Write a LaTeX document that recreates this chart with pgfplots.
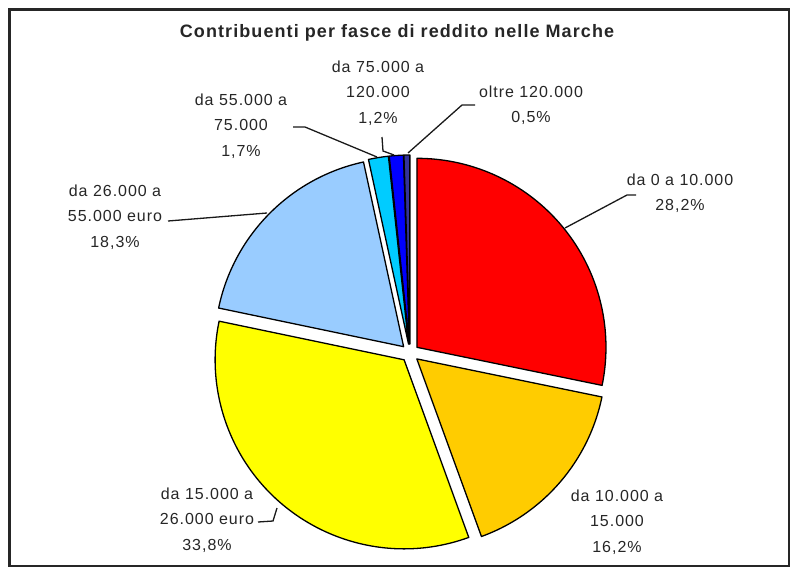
\documentclass[border=0pt]{standalone}
\usepackage{pgfplots}
\pgfplotsset{compat=1.18}
\usepackage{pgfplotstable}
\usepackage{fontspec}
\setmainfont{Liberation Sans}[LetterSpace=6]

\definecolor{cA}{HTML}{FF0000}
\definecolor{cB}{HTML}{FFCC00}
\definecolor{cC}{HTML}{FFFF00}
\definecolor{cD}{HTML}{99CCFF}
\definecolor{cE}{HTML}{00CCFF}
\definecolor{cF}{HTML}{0000FF}
\definecolor{cG}{HTML}{333399}

% quote percentuali, in senso orario da ore 12
\pgfplotstableread{
pct
28.2
16.2
33.8
18.3
1.7
1.2
0.5
}\fasce

\begin{document}
\begin{tikzpicture}[lab/.style={font=\fontsize{16}{25.5}\selectfont, align=center, text=black!85, inner sep=0pt}]
\pgfmathsetmacro\tot{0}
\foreach \i in {0,...,6}{%
  \pgfplotstablegetelem{\i}{pct}\of\fasce
  \pgfmathparse{\tot+\pgfplotsretval}\xdef\tot{\pgfmathresult}}
\begin{axis}[
  scale only axis, width=800pt, height=574pt,
  xmin=0, xmax=800, ymin=0, ymax=574, y dir=reverse,
  enlargelimits=false, hide axis, clip=false,
]
\path (axis cs:0,0) rectangle (axis cs:800,574);
\draw[line width=2.5pt, black!85] (axis cs:9.5,9.5) rectangle (axis cs:789,566);

\pgfplotsextra{%
  \xdef\cum{0}%
  \foreach \i/\col in {0/cA,1/cB,2/cC,3/cD,4/cE,5/cF,6/cG}{%
    \pgfplotstablegetelem{\i}{pct}\of\fasce
    \pgfmathsetmacro\s{90-\cum/\tot*360}%
    \pgfmathsetmacro\e{90-(\cum+\pgfplotsretval)/\tot*360}%
    \pgfmathsetmacro\b{(\s+\e)/2}%
    \pgfmathsetmacro\vx{410+9*cos(\b)}%
    \pgfmathsetmacro\vy{353-9*sin(\b)}%
    \filldraw[fill=\col, draw=black, line width=1.3pt, line join=round]
      (axis cs:\vx,\vy) -- ++(\s:189pt) arc[start angle=\s, end angle=\e, radius=189pt] -- cycle;
    \pgfmathparse{\cum+\pgfplotsretval}\xdef\cum{\pgfmathresult}%
  }%
}

% linee guida
\begin{scope}[line width=1.3pt, black!90]
\draw (axis cs:565,228) -- (axis cs:627,195) -- (axis cs:636,195);
\draw (axis cs:258,522) -- (axis cs:273,521) -- (axis cs:277,508);
\draw (axis cs:168,221) -- (axis cs:267,213);
\draw (axis cs:293,127) -- (axis cs:305,127) -- (axis cs:377,157);
\draw (axis cs:382,137) -- (axis cs:383,151) -- (axis cs:394,155);
\draw (axis cs:408,153) -- (axis cs:462,105) -- (axis cs:475,105);
\end{scope}

\node[font=\bfseries\fontsize{18}{20}\selectfont, text=black!85] at (axis cs:397,33) {Contribuenti per fasce di reddito nelle Marche};
\node[lab] at (axis cs:680,193) {da 0 a 10.000\\28,2\%};
\node[lab] at (axis cs:617,522) {da 10.000 a\\15.000\\16,2\%};
\node[lab] at (axis cs:207,520) {da 15.000 a\\26.000 euro\\33,8\%};
\node[lab] at (axis cs:115,217) {da 26.000 a\\55.000 euro\\18,3\%};
\node[lab] at (axis cs:241,126) {da 55.000 a\\75.000\\1,7\%};
\node[lab] at (axis cs:378,93) {da 75.000 a\\120.000\\1,2\%};
\node[lab] at (axis cs:531,105) {oltre 120.000\\0,5\%};
\end{axis}
\end{tikzpicture}
\end{document}
